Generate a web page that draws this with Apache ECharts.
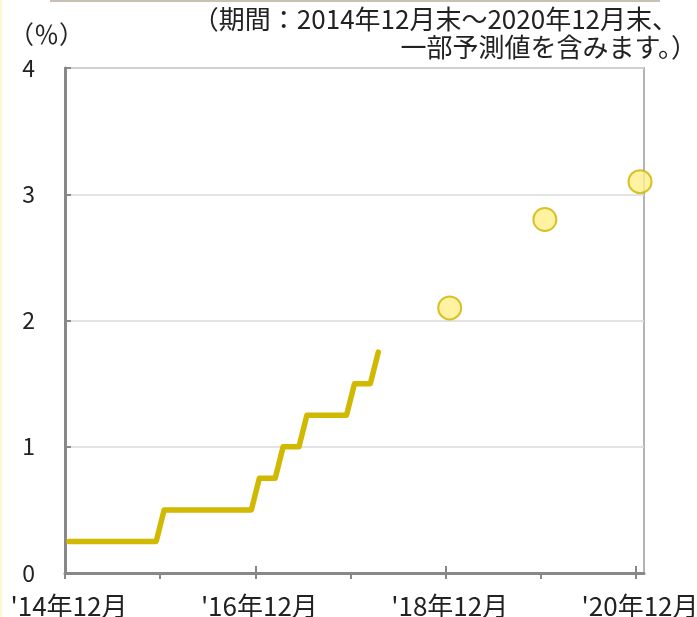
<!DOCTYPE html>
<html><head><meta charset="utf-8">
<script src="https://cdn.jsdelivr.net/npm/echarts@6/dist/echarts.min.js"></script>
<style>html,body{margin:0;padding:0;background:#fff}#c{width:697px;height:617px}</style>
</head><body><div id="c"></div><script>
// Policy rate, monthly, starting Dec 2014 (plotted mid-month)
const rateStart = '2014-12';
const rateValues = [
  0.25,0.25,0.25,0.25,0.25,0.25,0.25,0.25,0.25,0.25,0.25,0.25,
  0.5,0.5,0.5,0.5,0.5,0.5,0.5,0.5,0.5,0.5,0.5,0.5,
  0.75,0.75,0.75,
  1.0,1.0,1.0,
  1.25,1.25,1.25,1.25,1.25,1.25,
  1.5,1.5,1.5,
  1.75
];
// Projections (year-end)
const projMonths = ['2018-12','2019-12','2020-12'];
const projValues = [2.1, 2.8, 3.1];
const xTickLabels = ["'14年12月", "'16年12月", "'18年12月", "'20年12月"];
const note1 = '（期間：2014年12月末～2020年12月末、';
const note2 = '一部予測値を含みます。）';
const unitLabel = '（％）';

const FONT = '"Noto Sans CJK JP", "Noto Sans", sans-serif';
function monthPos(ym) {
  const p = ym.split('-').map(Number);
  return (p[0] - 2014) * 12 + (p[1] - 12) + 0.5;
}
const startPos = monthPos(rateStart);
const lineData = rateValues.map((v, i) => [startPos + i, v]);
const dotData = projMonths.map((m, i) => [monthPos(m), projValues[i]]);

const chart = echarts.init(document.getElementById('c'), null, {renderer: 'canvas'});
chart.setOption({
  animation: false,
  backgroundColor: '#ffffff',
  grid: {left: 65, right: 53, top: 68, bottom: 44, containLabel: false, outerBoundsMode: 'none',
    show: true, borderColor: '#b4b4b4', borderWidth: 2, backgroundColor: 'transparent'},
  xAxis: [{
    type: 'value', min: 0, max: 73, interval: 12, position: 'bottom',
    axisLine: {show: true, onZero: false, lineStyle: {color: '#888888', width: 3}},
    axisTick: {show: true, inside: false, length: 6, lineStyle: {color: '#888888', width: 2}, customValues: [0, 12, 24, 36, 48, 60, 72]},
    axisLabel: {show: true, customValues: [0, 24, 48, 72], margin: 20, color: '#222', fontSize: 26, fontFamily: FONT,
      padding: [0, 0, 0, 8], formatter: v => xTickLabels[Math.round(v / 24)] || ''},
    splitLine: {show: false}
  }, {
    type: 'value', min: 0, max: 73, interval: 24, position: 'bottom',
    axisLine: {show: false},
    axisTick: {show: true, inside: true, length: 7, lineStyle: {color: '#888888', width: 2}, customValues: [0, 24, 48, 72]},
    axisLabel: {show: false},
    splitLine: {show: false}
  }],
  yAxis: {
    type: 'value', min: 0, max: 4, interval: 1,
    axisLine: {show: true, onZero: false, lineStyle: {color: '#888888', width: 3}},
    axisTick: {show: true, inside: true, length: 6, lineStyle: {color: '#888888', width: 2}},
    axisLabel: {margin: 30, color: '#222', fontSize: 23, fontFamily: FONT},
    splitLine: {show: true, lineStyle: {color: '#dadada', width: 1.5}}
  },
  graphic: [
    {type: 'rect', left: 0, top: 0, shape: {width: 2, height: 617}, style: {fill: '#fff8d0'}, silent: true},
    {type: 'rect', left: 50, top: 0, shape: {width: 610, height: 2}, style: {fill: '#c8c0b2'}, silent: true},
    {type: 'text', x: 9, y: 34, style: {text: unitLabel, font: '25px ' + FONT, fill: '#222', textAlign: 'left', textVerticalAlign: 'middle'}},
    {type: 'text', x: 678, y: 19, style: {text: note1, font: '26px ' + FONT, fill: '#222', textAlign: 'right', textVerticalAlign: 'middle'}},
    {type: 'text', x: 697, y: 47, style: {text: note2, font: '26px ' + FONT, fill: '#222', textAlign: 'right', textVerticalAlign: 'middle'}}
  ],
  series: [{
    type: 'line', data: lineData, showSymbol: false, symbol: 'none', clip: false,
    lineStyle: {color: '#d0b900', width: 5.5, cap: 'round', join: 'round'}, z: 3
  }, {
    type: 'scatter', data: dotData, symbol: 'circle', symbolSize: 23, clip: false,
    itemStyle: {color: '#ffef88', borderColor: '#ccb400', borderWidth: 2}, z: 4
  }]
});
</script></body></html>
